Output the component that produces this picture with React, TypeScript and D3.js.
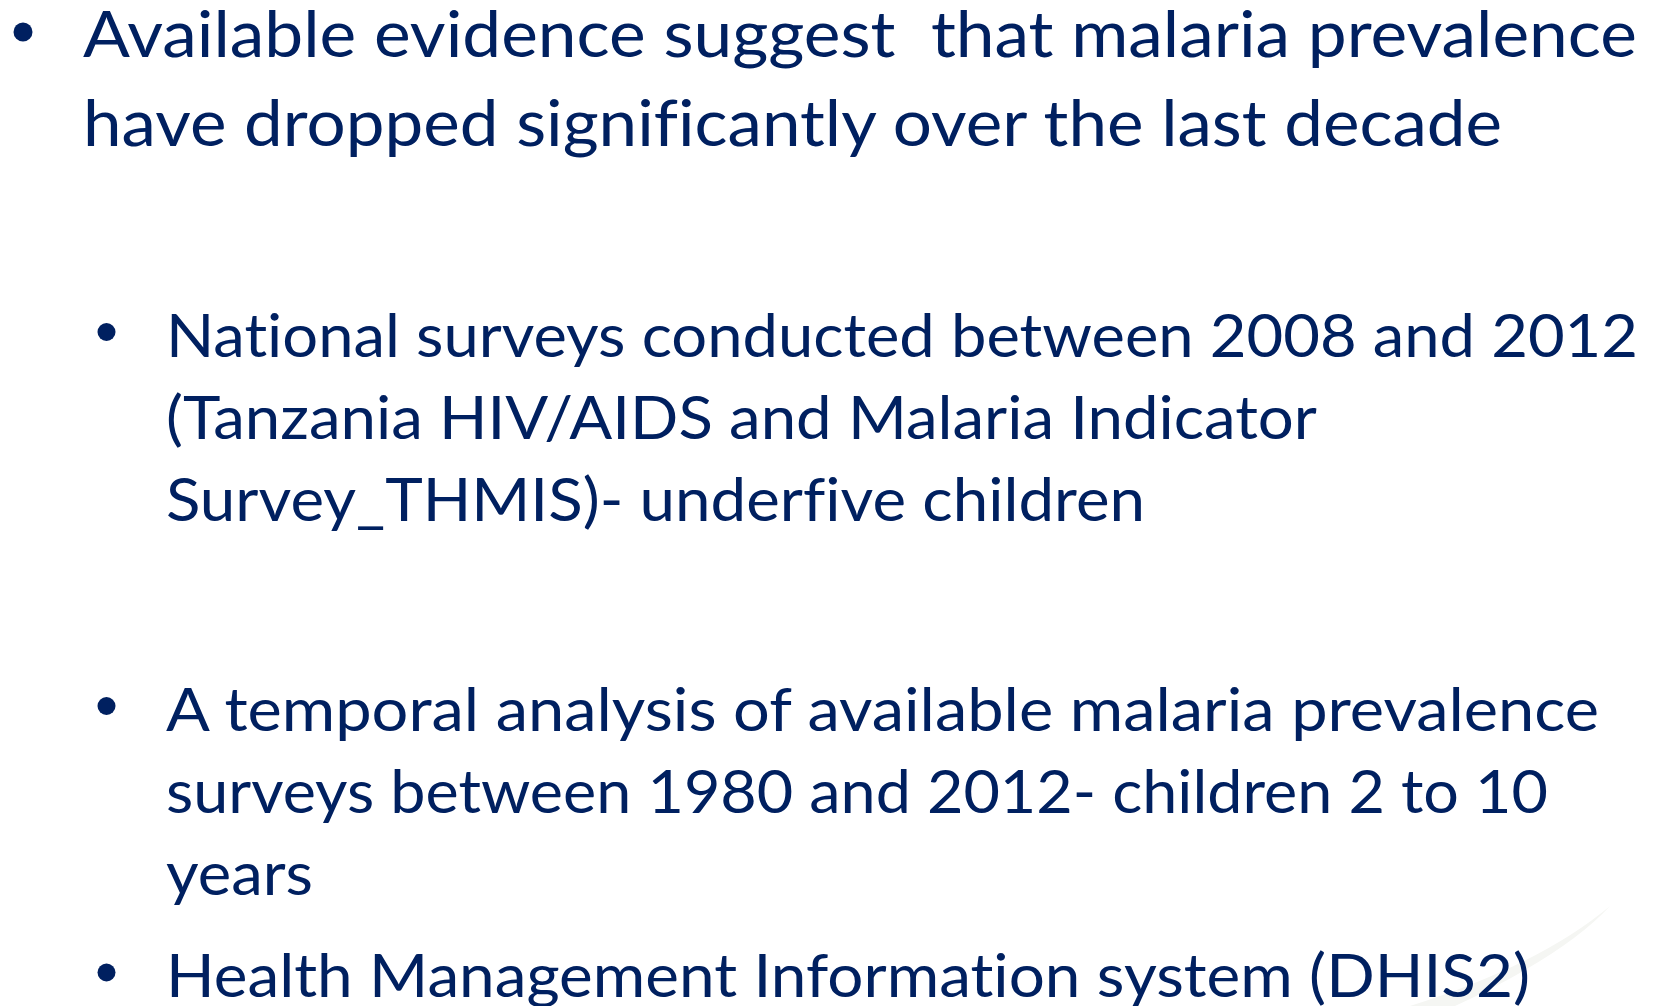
import React, { useEffect, useRef } from "react";
import * as d3 from "d3";

// Slide text content
const level1Lines = [
  "Available evidence suggest  that malaria prevalence",
  "have dropped significantly over the last decade",
];
const level2Blocks = [
  [
    "National surveys conducted between 2008 and 2012",
    "(Tanzania HIV/AIDS and Malaria Indicator",
    "Survey_THMIS)- underfive children",
  ],
  [
    "A temporal analysis of available malaria prevalence",
    "surveys between 1980 and 2012- children 2 to 10",
    "years",
  ],
  ["Health Management Information system (DHIS2)"],
];
// measured line end positions (px) in reference
const level1Ends = [1637, 1502];
const level2Ends = [[1638, 1317, 1145], [1599, 1548, 313], [1530]];
const level2Baselines = [356.5, 730.5, 997];

const W = 1655;
const H = 1006;
const COLOR = "#002060";

export default function App() {
  const ref = useRef<SVGSVGElement | null>(null);

  useEffect(() => {
    document.body.style.margin = "0";
    const svg = d3.select(ref.current);
    svg.selectAll("*").remove();

    // faint decorative swoosh bottom-right
    svg
      .append("path")
      .attr("d", "M1410,1006 Q1540,965 1610,906 Q1565,955 1455,1006 Z")
      .attr("fill", "#f5f6f3");

    const L1X = 83;
    const L1Size = 64;
    const L1Lead = 89;
    const L1Base = 57;

    svg
      .append("circle")
      .attr("cx", 23)
      .attr("cy", L1Base - 25)
      .attr("r", 9.5)
      .attr("fill", COLOR);

    svg
      .selectAll("text.l1")
      .data(level1Lines)
      .join("text")
      .attr("class", "l1")
      .attr("x", L1X)
      .attr("y", (_d, i) => L1Base + i * L1Lead)
      .attr("font-family", "Lato, 'Open Sans', sans-serif")
      .attr("font-size", L1Size)
      .attr("fill", COLOR)
      .attr("textLength", (_d, i) => level1Ends[i] - L1X)
      .attr("lengthAdjust", "spacingAndGlyphs")
      .style("white-space", "pre")
      .style("font-variant-ligatures", "none")
      .style("font-feature-settings", "'liga' 0, 'clig' 0, 'dlig' 0")
      .text((d) => d);

    const L2X = 166;
    const L2Size = 60.5;
    const L2Lead = 82;

    level2Blocks.forEach((block, bi) => {
      const base = level2Baselines[bi];
      svg
        .append("circle")
        .attr("cx", 106.5)
        .attr("cy", base - 24.5)
        .attr("r", 9)
        .attr("fill", COLOR);
      svg
        .append("g")
        .selectAll("text")
        .data(block)
        .join("text")
        .attr("x", L2X)
        .attr("y", (_d, i) => base + i * L2Lead)
        .attr("font-family", "Lato, 'Open Sans', sans-serif")
        .attr("font-size", L2Size)
        .attr("fill", COLOR)
        .attr("textLength", (_d, i) => level2Ends[bi][i] - L2X)
        .attr("lengthAdjust", "spacingAndGlyphs")
        .style("font-variant-ligatures", "none")
        .style("font-feature-settings", "'liga' 0, 'clig' 0, 'dlig' 0")
        .text((d) => d);
    });
  }, []);

  return (
    <svg
      ref={ref}
      width={W}
      height={H}
      style={{ position: "absolute", left: 0, top: 0, background: "#ffffff" }}
    />
  );
}
